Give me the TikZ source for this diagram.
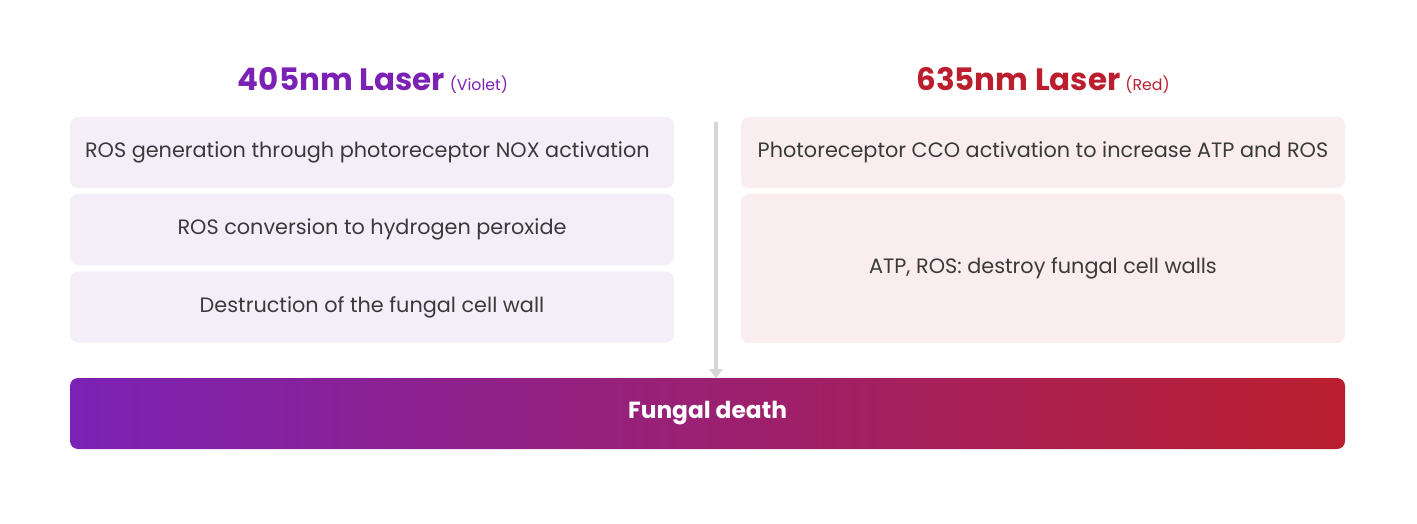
\documentclass[tikz,border=0pt]{standalone}
\usepackage{fontspec}
\setmainfont{Poppins}
\usetikzlibrary{arrows.meta}
\definecolor{vio}{HTML}{7B22B5}
\definecolor{redl}{HTML}{BB1F2E}
\definecolor{vbox}{HTML}{F4EEF8}
\definecolor{rbox}{HTML}{F9EDEF}
\definecolor{txt}{HTML}{3A3A3A}
\definecolor{arr}{HTML}{D6D6D6}
\newcommand\subtxt[1]{{\fontsize{11.8}{14}\selectfont\mdseries #1}}
\tikzset{
  px/.style={x=0.75pt,y=-0.75pt},
  cardbox/.style={rounded corners=6pt, draw=none, minimum width=453pt, inner sep=0pt, align=center, text=txt, font=\fontsize{15.6}{18}\selectfont},
  lbox/.style={cardbox, fill=vbox, minimum height=53.25pt},
  rbox/.style={cardbox, fill=rbox},
  head/.style={font=\fontsize{23.2}{27}\selectfont\bfseries, anchor=base},
}
\begin{document}
\begin{tikzpicture}[px]
\useasboundingbox (0,0) rectangle (1417,524);
\node[head, text=vio] (h1) at (373,91) {405nm Laser\,\subtxt{(Violet)}};
\node[head, text=redl] (h2) at (1043,91) {635nm Laser\,\subtxt{(Red)}};
\node[lbox] (l1) at (372,152.5) {ROS generation through photoreceptor NOX activation\hspace{7pt}};
\node[lbox] (l2) at (372,229.5) {ROS conversion to hydrogen peroxide};
\node[lbox] (l3) at (372,307) {Destruction of the fungal cell wall};
\node[rbox, minimum height=53.25pt] (r1) at (1043,152.5) {Photoreceptor CCO activation to increase ATP and ROS};
\node[rbox, minimum height=111.75pt] (r2) at (1043,268.5) {ATP, ROS: destroy fungal cell walls};
\node[rounded corners=6pt, left color=vio, right color=redl, minimum width=956.25pt, minimum height=53.25pt, text=white, font=\fontsize{17.5}{20}\selectfont\bfseries] (bar) at (707.5,413.5) {Fungal death};
\coordinate (top) at (716,122);
\draw[arr, line width=2.6pt, -{Triangle[length=7pt,width=10pt]}, shorten >=-0.5pt] (top) -- (top |- bar.north);
\end{tikzpicture}
\end{document}
